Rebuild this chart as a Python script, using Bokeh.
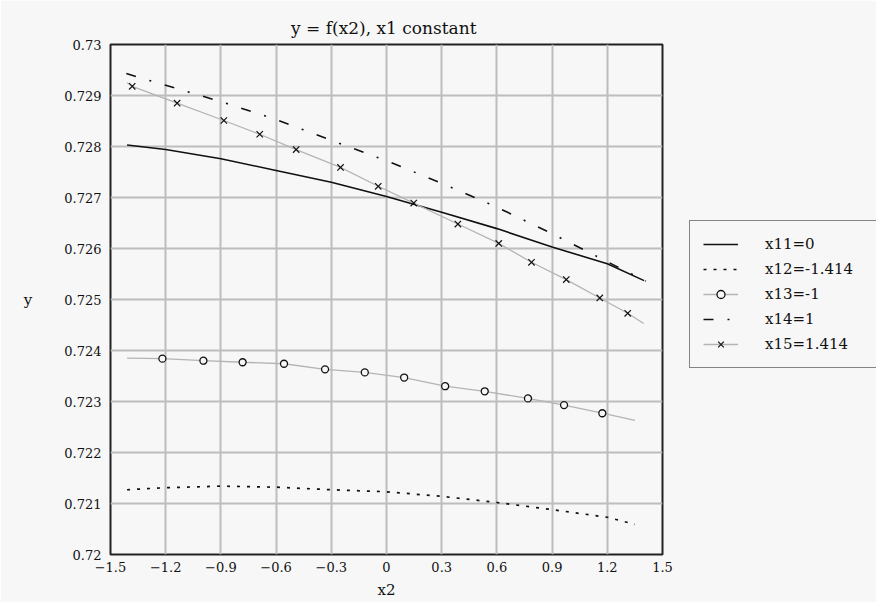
from bokeh.plotting import figure
from bokeh.models import Range1d, FixedTicker, Legend, LegendItem
from bokeh.embed import file_html
from bokeh.resources import INLINE

# ---------------- data ----------------
x_tick_values = [-1.5, -1.2, -0.9, -0.6, -0.3, 0.0, 0.3, 0.6, 0.9, 1.2, 1.5]
x_tick_labels = ["\u22121.5", "\u22121.2", "\u22120.9", "\u22120.6", "\u22120.3",
                 "0", "0.3", "0.6", "0.9", "1.2", "1.5"]
y_tick_values = [0.72, 0.721, 0.722, 0.723, 0.724, 0.725, 0.726, 0.727, 0.728, 0.729, 0.73]
y_tick_labels = ["0.72", "0.721", "0.722", "0.723", "0.724", "0.725",
                 "0.726", "0.727", "0.728", "0.729", "0.73"]

# x11 = 0 (solid)
x11_x = [-1.41, -1.2, -0.9, -0.6, -0.3, 0.0, 0.3, 0.6, 0.9, 1.2, 1.40]
x11_y = [0.72803, 0.72794, 0.72776, 0.72753, 0.72730, 0.72702, 0.72671,
         0.72639, 0.72603, 0.72570, 0.72537]

# x12 = -1.414 (dotted)
x12_x = [-1.41, -1.2, -0.9, -0.6, -0.3, 0.0, 0.3, 0.6, 0.9, 1.2, 1.35]
x12_y = [0.72127, 0.72131, 0.72134, 0.72132, 0.72127, 0.72123, 0.72114,
         0.72102, 0.72088, 0.72073, 0.72059]

# x13 = -1 (grey line, circle markers)
x13_line_x = [-1.41, -1.218, -0.995, -0.782, -0.557, -0.334, -0.118, 0.096,
              0.319, 0.534, 0.769, 0.965, 1.173, 1.35]
x13_line_y = [0.72385, 0.72384, 0.72380, 0.72377, 0.72374, 0.72363, 0.72357,
              0.72347, 0.72330, 0.72320, 0.72306, 0.72293, 0.72277, 0.72263]
x13_mark_x = [-1.218, -0.995, -0.782, -0.557, -0.334, -0.118, 0.096,
              0.319, 0.534, 0.769, 0.965, 1.173]
x13_mark_y = [0.72384, 0.72380, 0.72377, 0.72374, 0.72363, 0.72357,
              0.72347, 0.72330, 0.72320, 0.72306, 0.72293, 0.72277]

# x14 = 1 (dash-dot)
x14_x = [-1.414, -1.2, -0.9, -0.6, -0.3, 0.0, 0.3, 0.6, 0.9, 1.2, 1.41]
x14_y = [0.72943, 0.72920, 0.72888, 0.72853, 0.72812, 0.72772, 0.72728,
         0.72681, 0.72629, 0.72574, 0.72536]

# x15 = 1.414 (grey line, x markers)
x15_line_x = [-1.41, -1.382, -1.138, -0.884, -0.689, -0.491, -0.250, -0.045,
              0.148, 0.388, 0.610, 0.788, 0.977, 1.159, 1.311, 1.398]
x15_line_y = [0.72925, 0.72918, 0.72885, 0.72851, 0.72824, 0.72794, 0.72759,
              0.72722, 0.72689, 0.72648, 0.72610, 0.72573, 0.72539, 0.72503,
              0.72473, 0.72453]
x15_mark_x = [-1.382, -1.138, -0.884, -0.689, -0.491, -0.250, -0.045,
              0.148, 0.388, 0.610, 0.788, 0.977, 1.159, 1.311]
x15_mark_y = [0.72918, 0.72885, 0.72851, 0.72824, 0.72794, 0.72759,
              0.72722, 0.72689, 0.72648, 0.72610, 0.72573, 0.72539, 0.72503,
              0.72473]

series_labels = ["x11=0", "x12=-1.414", "x13=-1", "x14=1", "x15=1.414"]
title_text = "y = f(x2), x1  constant"
x_label = "x2"
y_label = "y"

# ---------------- styling ----------------
BG = "#f7f7f7"
FONT = "DejaVu Serif"
GRAY = "#b4b4b4"
INK = "#111111"

p = figure(frame_width=552, frame_height=510,
           min_border_left=110, min_border_right=214,
           min_border_top=44, min_border_bottom=48,
           x_range=Range1d(-1.5, 1.5), y_range=Range1d(0.72, 0.73),
           output_backend="svg", toolbar_location=None,
           background_fill_color=BG, border_fill_color=BG,
           title=title_text)

p.title.align = "center"
p.title.text_font = FONT
p.title.text_font_size = "17px"
p.title.text_font_style = "normal"
p.title.text_color = INK
p.title.standoff = 13

p.outline_line_color = "#222222"
p.outline_line_width = 2

for ax in (p.xaxis[0], p.yaxis[0]):
    ax.axis_line_color = None
    ax.major_tick_line_color = None
    ax.minor_tick_line_color = None
    ax.major_tick_out = 0
    ax.major_tick_in = 0
    ax.major_label_text_font = FONT
    ax.major_label_text_font_size = "13px"
    ax.major_label_text_color = INK
    ax.axis_label_text_font = FONT
    ax.axis_label_text_font_size = "15px"
    ax.axis_label_text_font_style = "normal"
    ax.axis_label_text_color = INK

p.xaxis[0].ticker = FixedTicker(ticks=x_tick_values)
p.yaxis[0].ticker = FixedTicker(ticks=y_tick_values)
p.xaxis[0].major_label_overrides = dict(zip(x_tick_values, x_tick_labels))
p.yaxis[0].major_label_overrides = dict(zip(y_tick_values, y_tick_labels))
p.xaxis[0].major_label_standoff = 7
p.yaxis[0].major_label_standoff = 9

p.xaxis[0].axis_label = x_label
p.xaxis[0].axis_label_standoff = 6
p.yaxis[0].axis_label = y_label
p.yaxis[0].axis_label_standoff = 29
if "axis_label_orientation" in p.yaxis[0].properties():
    p.yaxis[0].axis_label_orientation = "horizontal"

p.xgrid[0].ticker = FixedTicker(ticks=x_tick_values)
p.ygrid[0].ticker = FixedTicker(ticks=y_tick_values)
for g in (p.xgrid[0], p.ygrid[0]):
    g.grid_line_color = "#bdbdbd"
    g.grid_line_width = 2

# ---------------- glyphs ----------------
r11 = p.line(x11_x, x11_y, line_color=INK, line_width=1.6)
r12 = p.line(x12_x, x12_y, line_color=INK, line_width=1.7, line_dash="3 7")
r13l = p.line(x13_line_x, x13_line_y, line_color=GRAY, line_width=1.3)
r13m = p.scatter(x13_mark_x, x13_mark_y, marker="circle", size=7,
                 fill_color=BG, line_color=INK, line_width=1.3)
r14 = p.line(x14_x, x14_y, line_color=INK, line_width=1.6,
             line_dash="10 14 2 14")
r15l = p.line(x15_line_x, x15_line_y, line_color=GRAY, line_width=1.3)
r15m = p.scatter(x15_mark_x, x15_mark_y, marker="x", size=9,
                 line_color=INK, line_width=1.2)

legend = Legend(items=[
    LegendItem(label=series_labels[0], renderers=[r11]),
    LegendItem(label=series_labels[1], renderers=[r12]),
    LegendItem(label=series_labels[2], renderers=[r13l, r13m]),
    LegendItem(label=series_labels[3], renderers=[r14]),
    LegendItem(label=series_labels[4], renderers=[r15l, r15m]),
], location=(27, 186))
legend.background_fill_color = BG
legend.background_fill_alpha = 1.0
legend.border_line_color = INK
legend.border_line_width = 1.3
legend.padding = 13
legend.spacing = 5
legend.margin = 0
legend.glyph_width = 35
legend.glyph_height = 20
legend.label_height = 20
legend.label_standoff = 27
legend.label_width = 120
legend.label_text_font = FONT
legend.label_text_font_size = "15px"
legend.label_text_color = INK
p.add_layout(legend, "right")

open("out.html", "w").write(file_html(p, INLINE))
